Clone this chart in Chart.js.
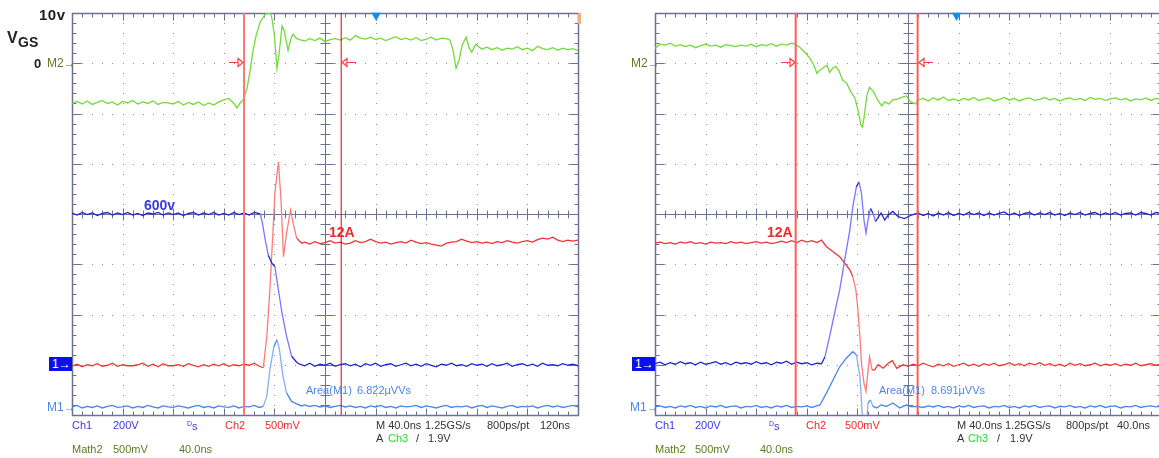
<!DOCTYPE html>
<html>
<head>
<meta charset="utf-8">
<title>Turn-on / turn-off waveforms</title>
<script src="https://cdn.jsdelivr.net/npm/chart.js@4.4.1/dist/chart.umd.min.js"></script>
<style>
	html, body { margin: 0; padding: 0; background: #fff; overflow: hidden; }
	#wrap { position: relative; width: 1159px; height: 458px; overflow: hidden; font-family: "Liberation Sans", Arial, sans-serif; }
	#wrap canvas { position: absolute; top: 0; }
	#left { left: 0; width: 600px; height: 458px; }
	#right { left: 600px; width: 570px; height: 458px; }
	.t { position: absolute; white-space: nowrap; font-size: 11px; line-height: 1; }
	.b { font-weight: bold; }
	.k { color: #222; }
	.ch1 { color: #3a3ae2; }
	.ch2 { color: #f02a2a; }
	.ch3 { color: #1fdc1f; }
	.m2 { color: #5f7a1e; }
	.m1 { color: #4a86ea; }
	.gr { color: #333; }
	.box { background: #0b12e8; color: #fff; font-size: 12px; width: 20px; height: 12px; padding: 1px 0 1px 3px; }
	sup { font-size: 7px; vertical-align: 4px; }
</style>
</head>
<body>
<div id="wrap">
	<canvas id="left" width="600" height="458"></canvas>
	<canvas id="right" width="570" height="458"></canvas>

	<!-- left scope: turn-on -->
	<div class="t b k" style="left:39px;top:7px;font-size:15px;letter-spacing:0.5px">10v</div>
	<div class="t b k" style="left:7px;top:30px;font-size:16px">V</div>
	<div class="t b k" style="left:18px;top:35px;font-size:14px">GS</div>
	<div class="t b k" style="left:34px;top:57px;font-size:13px">0</div>
	<div class="t m2" style="left:47px;top:57px;font-size:12px">M2→</div>
	<div class="t b ch1" style="left:144px;top:198px;font-size:14px">600v</div>
	<div class="t b ch2" style="left:329px;top:225px;font-size:14px">12A</div>
	<div class="t box" style="left:49px;top:357px">1→</div>
	<div class="t m1" style="left:47px;top:401px;font-size:12px">M1→</div>
	<div class="t m1" style="left:306px;top:385px">Area(M1)</div>
	<div class="t m1" style="left:357px;top:385px">6.822µVVs</div>

	<div class="t ch1" style="left:72px;top:420px">Ch1</div>
	<div class="t ch1" style="left:113px;top:420px">200V</div>
	<div class="t ch1" style="left:187px;top:420px"><sup>D</sup>s</div>
	<div class="t ch2" style="left:225px;top:420px">Ch2</div>
	<div class="t ch2" style="left:265px;top:420px">500mV</div>
	<div class="t gr" style="left:376px;top:420px">M 40.0ns</div>
	<div class="t gr" style="left:425px;top:420px">1.25GS/s</div>
	<div class="t gr" style="left:487px;top:420px">800ps/pt</div>
	<div class="t gr" style="left:540px;top:420px">120ns</div>
	<div class="t gr" style="left:376px;top:433px">A</div>
	<div class="t ch3" style="left:388px;top:433px">Ch3</div>
	<div class="t gr" style="left:416px;top:433px">/</div>
	<div class="t gr" style="left:428px;top:433px">1.9V</div>
	<div class="t m2" style="left:72px;top:444px">Math2</div>
	<div class="t m2" style="left:113px;top:444px">500mV</div>
	<div class="t m2" style="left:179px;top:444px">40.0ns</div>

	<!-- right scope: turn-off -->
	<div class="t m2" style="left:631px;top:57px;font-size:12px">M2→</div>
	<div class="t b ch2" style="left:767px;top:225px;font-size:14px">12A</div>
	<div class="t box" style="left:632px;top:357px">1→</div>
	<div class="t m1" style="left:630px;top:401px;font-size:12px">M1→</div>
	<div class="t m1" style="left:879px;top:385px">Area(M1)</div>
	<div class="t m1" style="left:931px;top:385px">8.691µVVs</div>

	<div class="t ch1" style="left:655px;top:420px">Ch1</div>
	<div class="t ch1" style="left:695px;top:420px">200V</div>
	<div class="t ch1" style="left:769px;top:420px"><sup>D</sup>s</div>
	<div class="t ch2" style="left:806px;top:420px">Ch2</div>
	<div class="t ch2" style="left:845px;top:420px">500mV</div>
	<div class="t gr" style="left:957px;top:420px">M 40.0ns</div>
	<div class="t gr" style="left:1005px;top:420px">1.25GS/s</div>
	<div class="t gr" style="left:1066px;top:420px">800ps/pt</div>
	<div class="t gr" style="left:1117px;top:420px">40.0ns</div>
	<div class="t gr" style="left:957px;top:433px">A</div>
	<div class="t ch3" style="left:968px;top:433px">Ch3</div>
	<div class="t gr" style="left:997px;top:433px">/</div>
	<div class="t gr" style="left:1010px;top:433px">1.9V</div>
	<div class="t m2" style="left:655px;top:444px">Math2</div>
	<div class="t m2" style="left:695px;top:444px">500mV</div>
	<div class="t m2" style="left:760px;top:444px">40.0ns</div>
</div>

<script>
// all traces in screen divisions: x 0..10 (40ns/div), y -4..4 from centre
// turn-on (left screen)
var lVgs = [[0,2.20],[0.1,2.24],[0.2,2.19],[0.3,2.25],[0.4,2.18],[0.5,2.22],[0.6,2.26],[0.7,2.20],[0.8,2.23],[0.9,2.17],
	[1.0,2.24],[1.1,2.21],[1.2,2.26],[1.3,2.19],[1.4,2.23],[1.5,2.20],[1.6,2.25],[1.7,2.18],[1.8,2.22],[1.9,2.21],
	[2.0,2.19],[2.1,2.24],[2.2,2.17],[2.3,2.22],[2.4,2.18],[2.5,2.23],[2.6,2.16],[2.7,2.21],[2.8,2.17],[2.9,2.23],
	[3.0,2.27],[3.1,2.30],[3.2,2.20],[3.26,2.11],[3.33,2.22],[3.38,2.27],[3.46,2.50],[3.52,2.86],[3.58,3.26],[3.64,3.56],
	[3.72,3.82],[3.82,3.98],[3.92,4.0],[3.95,3.9],[4.0,3.56],[4.05,2.90],[4.09,3.16],[4.15,3.74],[4.19,3.66],[4.23,3.46],
	[4.27,3.26],[4.33,3.50],[4.37,3.58],[4.43,3.50],[4.5,3.47],[4.6,3.44],[4.7,3.49],[4.8,3.45],[4.9,3.50],[5.0,3.43],
	[5.1,3.47],[5.2,3.49],[5.3,3.46],[5.4,3.51],[5.5,3.46],[5.6,3.55],[5.7,3.50],[5.8,3.48],[5.9,3.52],[6.0,3.47],
	[6.1,3.50],[6.2,3.45],[6.3,3.49],[6.4,3.53],[6.5,3.47],[6.6,3.50],[6.7,3.46],[6.8,3.51],[6.9,3.45],[7.0,3.48],
	[7.1,3.52],[7.2,3.46],[7.3,3.50],[7.4,3.49],[7.47,3.46],[7.53,3.26],[7.59,2.90],[7.65,3.06],[7.71,3.36],[7.79,3.52],
	[7.85,3.30],[7.9,3.22],[7.98,3.38],[8.1,3.28],[8.2,3.32],[8.3,3.27],[8.4,3.31],[8.5,3.26],[8.6,3.30],[8.7,3.28],
	[8.8,3.33],[8.9,3.27],[9.0,3.30],[9.1,3.25],[9.2,3.34],[9.3,3.29],[9.4,3.27],[9.5,3.31],[9.6,3.26],[9.7,3.30],
	[9.8,3.27],[9.9,3.29],[10,3.25]];

var lId = [[0,-3.03],[0.1,-2.99],[0.2,-3.04],[0.3,-3.00],[0.4,-3.02],[0.5,-2.98],[0.6,-3.03],[0.7,-3.01],[0.8,-2.97],[0.9,-3.03],
	[1.0,-3.00],[1.1,-3.02],[1.2,-3.02],[1.3,-3.00],[1.4,-2.97],[1.5,-3.03],[1.6,-2.99],[1.7,-3.04],[1.8,-2.98],[1.9,-3.02],
	[2.0,-3.02],[2.1,-3.00],[2.2,-3.03],[2.3,-2.98],[2.4,-3.01],[2.5,-3.04],[2.6,-3.00],[2.7,-3.03],[2.8,-2.99],[2.9,-3.02],
	[3.0,-2.98],[3.1,-3.03],[3.2,-3.00],[3.3,-3.02],[3.4,-2.99],[3.5,-3.01],[3.6,-2.97],[3.7,-3.03],[3.78,-3.06],[3.85,-2.44],
	[3.91,-1.51],[3.97,-0.38],[4.01,0.42],[4.08,1.04],[4.13,0.28],[4.18,-0.85],[4.24,-0.38],[4.32,0.08],[4.37,-0.18],[4.44,-0.48],
	[4.54,-0.58],[4.6,-0.56],[4.7,-0.60],[4.8,-0.55],[4.9,-0.59],[5.0,-0.57],[5.1,-0.53],[5.2,-0.58],[5.3,-0.56],[5.4,-0.60],
	[5.5,-0.58],[5.6,-0.53],[5.7,-0.57],[5.8,-0.55],[5.9,-0.50],[6.0,-0.55],[6.1,-0.58],[6.2,-0.56],[6.3,-0.60],[6.4,-0.57],
	[6.5,-0.55],[6.6,-0.58],[6.7,-0.52],[6.8,-0.56],[6.9,-0.59],[7.0,-0.57],[7.1,-0.60],[7.2,-0.62],[7.3,-0.64],[7.4,-0.58],
	[7.5,-0.56],[7.6,-0.55],[7.7,-0.50],[7.8,-0.54],[7.9,-0.57],[8.0,-0.55],[8.1,-0.58],[8.2,-0.56],[8.3,-0.59],[8.4,-0.55],
	[8.5,-0.57],[8.6,-0.53],[8.7,-0.56],[8.8,-0.58],[8.9,-0.55],[9.0,-0.53],[9.1,-0.56],[9.2,-0.51],[9.3,-0.48],[9.4,-0.50],
	[9.5,-0.46],[9.6,-0.52],[9.7,-0.55],[9.8,-0.52],[9.9,-0.54],[10,-0.52]];

var lVds = [[0,0.02],[0.1,-0.02],[0.2,0.03],[0.3,-0.01],[0.4,0.02],[0.5,-0.03],[0.6,0.01],[0.7,0.03],[0.8,-0.02],[0.9,0.02],
	[1.0,-0.01],[1.1,0.03],[1.2,-0.02],[1.3,0.01],[1.4,-0.03],[1.5,0.02],[1.6,0.00],[1.7,0.03],[1.8,-0.02],[1.9,0.02],
	[2.0,-0.01],[2.1,0.02],[2.2,-0.03],[2.3,0.01],[2.4,0.03],[2.5,-0.02],[2.6,0.02],[2.7,-0.01],[2.8,0.03],[2.9,-0.02],
	[3.0,0.01],[3.1,-0.02],[3.2,0.03],[3.3,-0.01],[3.4,0.02],[3.5,-0.02],[3.6,0.03],[3.72,0.00],[3.76,-0.16],[3.82,-0.52],
	[3.88,-0.82],[3.95,-0.98],[4.01,-1.05],[4.07,-1.45],[4.15,-1.97],[4.24,-2.43],[4.34,-2.83],[4.44,-2.95],[4.5,-2.99],[4.6,-3.02],
	[4.7,-2.97],[4.8,-3.03],[4.9,-2.99],[5.0,-3.01],[5.1,-2.97],[5.2,-3.03],[5.3,-3.00],[5.4,-2.98],[5.5,-3.02],[5.6,-2.99],
	[5.7,-3.04],[5.8,-2.98],[5.9,-3.01],[6.0,-2.97],[6.1,-3.03],[6.2,-3.00],[6.3,-2.98],[6.4,-3.03],[6.5,-3.00],[6.6,-2.97],
	[6.7,-3.02],[6.8,-2.99],[6.9,-3.03],[7.0,-2.98],[7.1,-3.01],[7.2,-3.04],[7.3,-2.99],[7.4,-3.01],[7.5,-2.97],[7.6,-3.02],
	[7.7,-3.00],[7.8,-3.03],[7.9,-2.98],[8.0,-3.01],[8.1,-2.99],[8.2,-3.03],[8.3,-2.98],[8.4,-3.02],[8.5,-3.00],[8.6,-2.97],
	[8.7,-3.03],[8.8,-3.00],[8.9,-2.98],[9.0,-3.02],[9.1,-2.99],[9.2,-3.03],[9.3,-2.97],[9.4,-3.01],[9.5,-3.00],[9.6,-3.02],
	[9.7,-2.98],[9.8,-3.01],[9.9,-2.99],[10,-3.02]];

var lM1 = [[0,-3.84],[0.1,-3.81],[0.2,-3.86],[0.3,-3.83],[0.4,-3.85],[0.5,-3.82],[0.6,-3.86],[0.7,-3.83],[0.8,-3.81],[0.9,-3.85],
	[1.0,-3.84],[1.1,-3.82],[1.2,-3.86],[1.3,-3.83],[1.4,-3.85],[1.5,-3.81],[1.6,-3.84],[1.7,-3.86],[1.8,-3.82],[1.9,-3.84],
	[2.0,-3.85],[2.1,-3.82],[2.2,-3.84],[2.3,-3.86],[2.4,-3.83],[2.5,-3.81],[2.6,-3.85],[2.7,-3.83],[2.8,-3.86],[2.9,-3.82],
	[3.0,-3.84],[3.1,-3.85],[3.2,-3.82],[3.3,-3.86],[3.4,-3.83],[3.5,-3.84],[3.6,-3.81],[3.7,-3.85],[3.78,-3.83],[3.85,-3.63],
	[3.91,-3.10],[3.99,-2.64],[4.05,-2.50],[4.10,-2.70],[4.17,-3.23],[4.24,-3.56],[4.34,-3.73],[4.44,-3.78],[4.54,-3.82],[4.6,-3.80],
	[4.7,-3.83],[4.8,-3.81],[4.9,-3.84],[5.0,-3.82],[5.1,-3.85],[5.2,-3.83],[5.3,-3.81],[5.4,-3.84],[5.5,-3.82],[5.6,-3.85],
	[5.7,-3.83],[5.8,-3.86],[5.9,-3.82],[6.0,-3.84],[6.1,-3.81],[6.2,-3.85],[6.3,-3.83],[6.4,-3.86],[6.5,-3.82],[6.6,-3.84],
	[6.7,-3.83],[6.8,-3.81],[6.9,-3.85],[7.0,-3.82],[7.1,-3.84],[7.2,-3.86],[7.3,-3.83],[7.4,-3.81],[7.5,-3.85],[7.6,-3.83],
	[7.7,-3.84],[7.8,-3.82],[7.9,-3.86],[8.0,-3.83],[8.1,-3.81],[8.2,-3.85],[8.3,-3.82],[8.4,-3.84],[8.5,-3.86],[8.6,-3.83],
	[8.7,-3.81],[8.8,-3.85],[8.9,-3.83],[9.0,-3.84],[9.1,-3.82],[9.2,-3.86],[9.3,-3.83],[9.4,-3.81],[9.5,-3.84],[9.6,-3.82],
	[9.7,-3.85],[9.8,-3.83],[9.9,-3.81],[10,-3.84]];

// turn-off (right screen)
var rVgs = [[0,3.30],[0.1,3.38],[0.2,3.36],[0.3,3.40],[0.4,3.34],[0.5,3.37],[0.6,3.33],[0.7,3.36],[0.8,3.31],[0.9,3.35],
	[1.0,3.38],[1.1,3.34],[1.2,3.36],[1.3,3.32],[1.4,3.37],[1.5,3.35],[1.6,3.33],[1.7,3.36],[1.8,3.34],[1.9,3.38],
	[2.0,3.33],[2.1,3.37],[2.2,3.35],[2.3,3.39],[2.4,3.34],[2.5,3.38],[2.6,3.36],[2.7,3.40],[2.76,3.38],[2.86,3.32],
	[2.96,3.22],[3.06,3.10],[3.14,2.96],[3.20,2.80],[3.26,2.86],[3.34,2.92],[3.40,2.96],[3.45,2.82],[3.51,2.90],[3.57,2.94],
	[3.63,2.86],[3.71,2.66],[3.79,2.60],[3.87,2.43],[3.95,2.31],[4.01,2.07],[4.07,1.77],[4.10,1.73],[4.13,1.91],[4.19,2.37],
	[4.24,2.52],[4.32,2.43],[4.40,2.27],[4.48,2.15],[4.54,2.23],[4.62,2.19],[4.70,2.27],[4.80,2.29],[4.90,2.33],[4.97,2.35],
	[5.05,2.23],[5.15,2.19],[5.2,2.27],[5.3,2.30],[5.4,2.25],[5.5,2.31],[5.6,2.27],[5.7,2.33],[5.8,2.26],[5.9,2.29],
	[6.0,2.25],[6.1,2.30],[6.2,2.27],[6.3,2.32],[6.4,2.26],[6.5,2.29],[6.6,2.31],[6.7,2.25],[6.8,2.28],[6.9,2.32],
	[7.0,2.27],[7.1,2.30],[7.2,2.25],[7.3,2.29],[7.4,2.31],[7.5,2.26],[7.6,2.28],[7.7,2.32],[7.8,2.27],[7.9,2.30],
	[8.0,2.25],[8.1,2.29],[8.2,2.31],[8.3,2.27],[8.4,2.30],[8.5,2.26],[8.6,2.32],[8.7,2.28],[8.8,2.30],[8.9,2.26],
	[9.0,2.29],[9.1,2.31],[9.2,2.27],[9.3,2.30],[9.4,2.25],[9.5,2.29],[9.6,2.27],[9.7,2.31],[9.8,2.26],[9.9,2.30],[10,2.28]];

var rId = [[0,-0.58],[0.1,-0.56],[0.2,-0.59],[0.3,-0.57],[0.4,-0.60],[0.5,-0.56],[0.6,-0.58],[0.7,-0.55],[0.8,-0.59],[0.9,-0.57],
	[1.0,-0.60],[1.1,-0.56],[1.2,-0.58],[1.3,-0.57],[1.4,-0.59],[1.5,-0.55],[1.6,-0.58],[1.7,-0.56],[1.8,-0.59],[1.9,-0.57],
	[2.0,-0.55],[2.1,-0.58],[2.2,-0.56],[2.3,-0.59],[2.4,-0.57],[2.5,-0.54],[2.6,-0.57],[2.7,-0.53],[2.8,-0.57],[2.9,-0.52],
	[3.0,-0.56],[3.1,-0.53],[3.2,-0.57],[3.29,-0.52],[3.39,-0.65],[3.52,-0.75],[3.65,-0.85],[3.75,-0.98],[3.85,-1.11],[3.91,-1.25],
	[3.97,-1.51],[4.01,-1.91],[4.05,-2.44],[4.08,-2.97],[4.13,-3.37],[4.17,-3.53],[4.20,-3.23],[4.24,-2.84],[4.29,-3.10],[4.34,-3.10],
	[4.41,-3.00],[4.51,-3.07],[4.61,-2.97],[4.69,-2.92],[4.78,-3.07],[4.90,-3.00],[5.0,-3.03],[5.1,-2.99],[5.2,-3.02],[5.3,-2.97],
	[5.4,-3.01],[5.5,-3.04],[5.6,-2.99],[5.7,-3.02],[5.8,-2.98],[5.9,-3.03],[6.0,-3.00],[6.1,-2.97],[6.2,-3.02],[6.3,-2.99],
	[6.4,-3.03],[6.5,-2.98],[6.6,-3.01],[6.7,-2.97],[6.8,-3.02],[6.9,-3.00],[7.0,-2.96],[7.1,-3.01],[7.2,-2.98],[7.3,-3.02],
	[7.4,-2.97],[7.5,-3.00],[7.6,-2.96],[7.7,-3.01],[7.8,-2.98],[7.9,-3.02],[8.0,-2.99],[8.1,-3.03],[8.2,-2.97],[8.3,-3.01],
	[8.4,-2.98],[8.5,-3.02],[8.6,-3.00],[8.7,-2.97],[8.8,-3.02],[8.9,-2.99],[9.0,-3.01],[9.1,-2.98],[9.2,-3.02],[9.3,-2.99],
	[9.4,-3.01],[9.5,-2.97],[9.6,-3.02],[9.7,-3.00],[9.8,-2.98],[9.9,-3.01],[10,-2.99]];

var rVds = [[0,-2.98],[0.1,-2.95],[0.2,-3.00],[0.3,-2.96],[0.4,-2.99],[0.5,-2.94],[0.6,-2.98],[0.7,-2.96],[0.8,-3.00],[0.9,-2.95],
	[1.0,-2.99],[1.1,-2.97],[1.2,-2.94],[1.3,-2.99],[1.4,-2.96],[1.5,-3.00],[1.6,-2.95],[1.7,-2.98],[1.8,-2.96],[1.9,-2.99],
	[2.0,-2.94],[2.1,-2.98],[2.2,-2.96],[2.3,-3.00],[2.4,-2.95],[2.5,-2.97],[2.6,-2.93],[2.7,-2.99],[2.8,-2.95],[2.9,-2.98],
	[3.0,-2.96],[3.1,-3.00],[3.2,-2.97],[3.29,-2.98],[3.36,-2.84],[3.45,-2.44],[3.55,-1.97],[3.65,-1.51],[3.75,-0.91],[3.85,-0.32],
	[3.91,0.15],[3.98,0.54],[4.03,0.64],[4.08,0.41],[4.13,-0.12],[4.17,-0.38],[4.21,-0.12],[4.26,0.11],[4.31,0.01],[4.36,-0.15],
	[4.42,-0.05],[4.47,0.02],[4.54,-0.12],[4.61,-0.02],[4.70,0.05],[4.80,-0.05],[4.93,-0.09],[5.07,-0.02],[5.2,0.02],[5.3,-0.03],
	[5.4,0.01],[5.5,-0.04],[5.6,0.02],[5.7,-0.02],[5.8,0.03],[5.9,-0.03],[6.0,0.01],[6.1,-0.02],[6.2,0.03],[6.3,-0.01],
	[6.4,0.02],[6.5,-0.03],[6.6,0.02],[6.7,-0.02],[6.8,0.01],[6.9,0.04],[7.0,-0.02],[7.1,0.02],[7.2,-0.03],[7.3,0.01],
	[7.4,0.03],[7.5,-0.02],[7.6,0.02],[7.7,-0.01],[7.8,0.03],[7.9,-0.02],[8.0,0.01],[8.1,-0.03],[8.2,0.02],[8.3,-0.01],
	[8.4,0.03],[8.5,-0.02],[8.6,0.01],[8.7,0.03],[8.8,-0.02],[8.9,0.02],[9.0,-0.01],[9.1,0.03],[9.2,-0.02],[9.3,0.01],
	[9.4,0.02],[9.5,-0.02],[9.6,0.03],[9.7,0.01],[9.8,-0.02],[9.9,0.03],[10,0.01]];

var rM1 = [[0,-3.84],[0.1,-3.82],[0.2,-3.85],[0.3,-3.83],[0.4,-3.86],[0.5,-3.82],[0.6,-3.84],[0.7,-3.81],[0.8,-3.85],[0.9,-3.83],
	[1.0,-3.86],[1.1,-3.82],[1.2,-3.84],[1.3,-3.81],[1.4,-3.85],[1.5,-3.83],[1.6,-3.82],[1.7,-3.86],[1.8,-3.83],[1.9,-3.84],
	[2.0,-3.81],[2.1,-3.85],[2.2,-3.83],[2.3,-3.86],[2.4,-3.82],[2.5,-3.84],[2.6,-3.81],[2.7,-3.85],[2.8,-3.83],[2.9,-3.84],
	[3.0,-3.82],[3.1,-3.85],[3.16,-3.83],[3.26,-3.80],[3.39,-3.56],[3.52,-3.30],[3.65,-3.04],[3.78,-2.87],[3.91,-2.74],[3.98,-2.80],
	[4.05,-3.23],[4.10,-4.05],[4.15,-4.30],[4.19,-4.05],[4.21,-3.76],[4.26,-3.70],[4.31,-3.83],[4.38,-3.86],[4.47,-3.80],[4.57,-3.83],
	[4.70,-3.76],[4.84,-3.86],[4.97,-3.80],[5.07,-3.84],[5.17,-3.83],[5.3,-3.85],[5.4,-3.82],[5.5,-3.84],[5.6,-3.81],[5.7,-3.85],
	[5.8,-3.83],[5.9,-3.86],[6.0,-3.82],[6.1,-3.84],[6.2,-3.81],[6.3,-3.85],[6.4,-3.83],[6.5,-3.82],[6.6,-3.86],[6.7,-3.83],
	[6.8,-3.84],[6.9,-3.81],[7.0,-3.85],[7.1,-3.83],[7.2,-3.86],[7.3,-3.82],[7.4,-3.84],[7.5,-3.81],[7.6,-3.85],[7.7,-3.83],
	[7.8,-3.82],[7.9,-3.86],[8.0,-3.83],[8.1,-3.84],[8.2,-3.81],[8.3,-3.85],[8.4,-3.83],[8.5,-3.86],[8.6,-3.82],[8.7,-3.84],
	[8.8,-3.81],[8.9,-3.85],[9.0,-3.83],[9.1,-3.82],[9.2,-3.86],[9.3,-3.83],[9.4,-3.84],[9.5,-3.81],[9.6,-3.85],[9.7,-3.83],
	[9.8,-3.82],[9.9,-3.84],[10,-3.83]];

// cursors (div), trigger position (div), M2 reference level (div)
var lCursors = [3.40, 5.32];
var rCursors = [2.78, 5.19];
var lTrig = 6.01;
var rTrig = 5.96;
var m2Level = 3.02;

// scope draws fast edges fainter
function fade(slow, fast) {
	return c => {
		var dx = Math.abs(c.p1.x - c.p0.x), dy = Math.abs(c.p1.y - c.p0.y);
		return dy > 2.5 * Math.max(dx, 1) ? fast : slow;
	};
}

var graticule = {
	id: 'graticule',
	beforeDatasetsDraw(chart) {
		var c = chart.ctx, sx = chart.scales.x, sy = chart.scales.y;
		var X = v => Math.round(sx.getPixelForValue(v)) + 0.5;
		var Y = v => Math.round(sy.getPixelForValue(v)) + 0.5;
		var L = X(0), R = X(10), T = Y(4), B = Y(-4), cx = X(5), cy = Y(0);
		c.save();
		// dotted division lines
		c.fillStyle = '#858aa2';
		for (var i = 1; i < 10; i++) {
			if (i == 5) continue;
			for (var k = 1; k < 40; k++) c.fillRect(X(i) - 0.5, Y(-4 + k * 0.2) - 0.5, 1, 1);
		}
		for (var j = -3; j <= 3; j++) {
			if (j == 0) continue;
			for (var k = 1; k < 50; k++) c.fillRect(X(k * 0.2) - 0.5, Y(j) - 0.5, 1, 1);
		}
		c.strokeStyle = '#6c7292';
		c.lineWidth = 1;
		c.beginPath();
		c.moveTo(L, cy); c.lineTo(R, cy);
		c.moveTo(cx, T); c.lineTo(cx, B);
		for (var k = 1; k < 50; k++) {
			var px = X(k * 0.2), big = k % 5 == 0;
			var n = big ? 6 : 4, e = big ? 7 : 4;
			c.moveTo(px, cy - n); c.lineTo(px, cy + n);
			c.moveTo(px, T); c.lineTo(px, T + e);
			c.moveTo(px, B); c.lineTo(px, B - e);
		}
		for (var k = 1; k < 40; k++) {
			var py = Y(-4 + k * 0.2), big = k % 5 == 0;
			var n = big ? 9 : 5, e = big ? 9 : 4;
			c.moveTo(cx - n, py); c.lineTo(cx + n, py);
			c.moveTo(L, py); c.lineTo(L + e, py);
			c.moveTo(R, py); c.lineTo(R - e, py);
		}
		c.stroke();
		c.lineWidth = 1.5;
		c.strokeRect(L, T, R - L, B - T);
		c.restore();
	}
};

// cursor arrows at the M2 level, level marker at top right
var markers = {
	id: 'markers',
	afterDatasetsDraw(chart, args, opts) {
		var c = chart.ctx, sx = chart.scales.x, sy = chart.scales.y;
		var py = Math.round(sy.getPixelForValue(opts.level)) + 0.5;
		c.save();
		c.strokeStyle = '#ff3b3b';
		c.lineWidth = 1.2;
		opts.cursors.forEach((v, i) => {
			var px = Math.round(sx.getPixelForValue(v));
			var d = i == 0 ? -1 : 1; // first cursor: arrow comes from the left
			var tip = px + d * 1, base = px + d * 6, end = px + d * 15;
			c.beginPath();
			c.moveTo(end, py); c.lineTo(base, py);
			c.moveTo(base, py - 4); c.lineTo(tip, py); c.lineTo(base, py + 4); c.closePath();
			c.stroke();
		});
		c.fillStyle = '#f0b27c';
		c.fillRect(Math.round(sx.getPixelForValue(10)), Math.round(sy.getPixelForValue(4)), 3, 11);
		c.restore();
	}
};

function scopeChart(id, traces, cursors, trig, pad) {
	var sets = [];
	cursors.forEach(cu => sets.push({ data: [[cu.x, -4.5], [cu.x, 4.5]], borderColor: cu.color, borderWidth: cu.width }));
	sets.push({
		type: 'scatter', data: [[trig, 3.95]], pointStyle: 'triangle', rotation: 180,
		pointRadius: 5.5, pointBackgroundColor: '#1c8de6', pointBorderWidth: 0, clip: false
	});
	traces.forEach(t => sets.push({
		data: t.data, borderColor: t.color, borderWidth: 1.3,
		segment: { borderColor: fade(t.color, t.fast) }
	}));
	return new Chart(document.getElementById(id), {
		type: 'line',
		data: { datasets: sets },
		options: {
			responsive: false,
			animation: false,
			devicePixelRatio: 1,
			layout: { padding: pad },
			elements: { point: { radius: 0 }, line: { tension: 0 } },
			plugins: {
				legend: { display: false },
				tooltip: { enabled: false },
				markers: { cursors: cursors.map(cu => cu.x), level: m2Level }
			},
			scales: {
				x: { type: 'linear', min: 0, max: 10, display: false },
				y: { type: 'linear', min: -4, max: 4, display: false }
			}
		},
		plugins: [graticule, markers]
	});
}

scopeChart('left', [
		{ data: lVds, color: '#2424cf', fast: '#7777ff' },
		{ data: lId, color: '#f03434', fast: '#ff7b7b' },
		{ data: lM1, color: '#4a86ea', fast: '#86aef5' },
		{ data: lVgs, color: '#74da38', fast: '#74da38' }
	],
	[{ x: lCursors[0], color: '#ff7676', width: 2 }, { x: lCursors[1], color: '#e00000', width: 1 }],
	lTrig, { left: 72, right: 22, top: 13, bottom: 43 });

scopeChart('right', [
		{ data: rVds, color: '#2424cf', fast: '#7777ff' },
		{ data: rId, color: '#f03434', fast: '#ff7b7b' },
		{ data: rM1, color: '#4a86ea', fast: '#86aef5' },
		{ data: rVgs, color: '#74da38', fast: '#74da38' }
	],
	[{ x: rCursors[0], color: '#ff5a5a', width: 2 }, { x: rCursors[1], color: '#ff5a5a', width: 2 }],
	rTrig, { left: 55, right: 9, top: 13, bottom: 43 });
</script>
</body>
</html>
